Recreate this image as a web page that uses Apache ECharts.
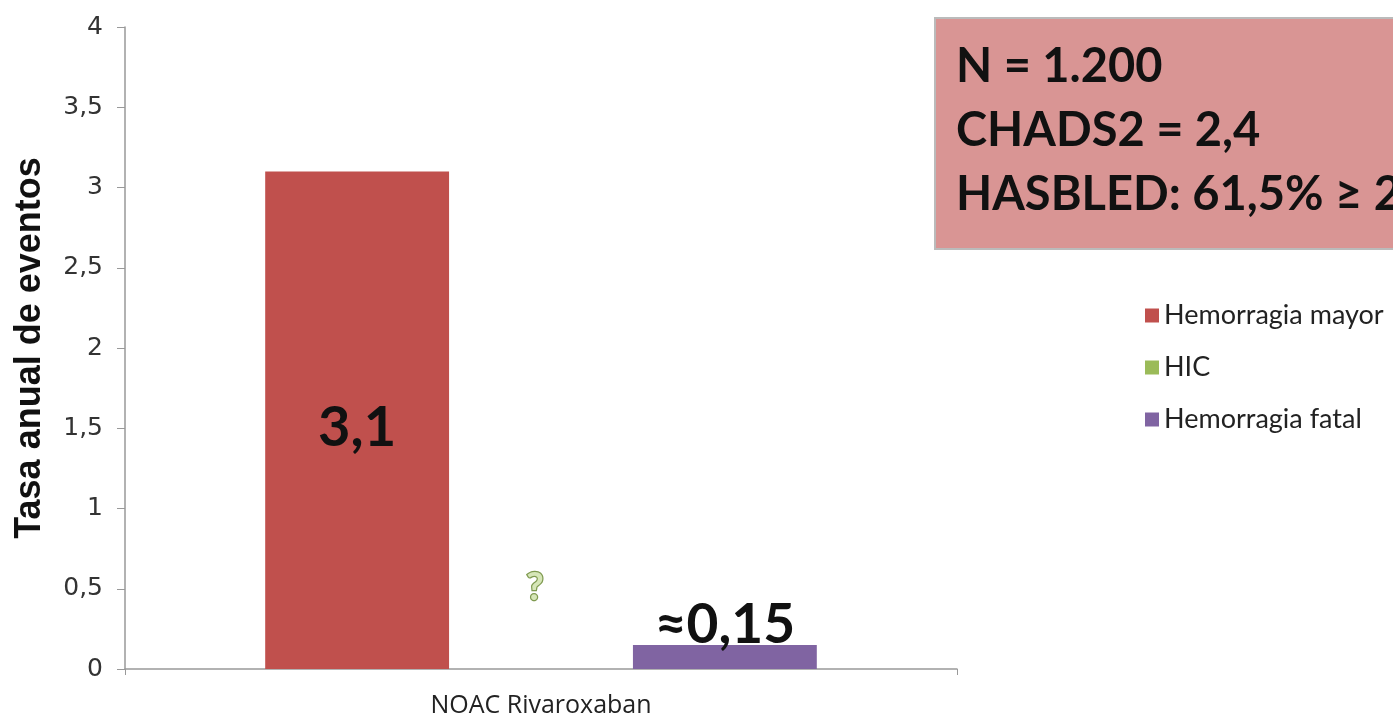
<!DOCTYPE html>
<html>
<head>
<meta charset="utf-8">
<script src="https://cdn.jsdelivr.net/npm/echarts@6/dist/echarts.min.js"></script>
<style>
  html, body { margin: 0; padding: 0; background: #fff; }
  #chart { width: 1393px; height: 719px; }
</style>
</head>
<body>
<div id="chart"></div>
<script>
// Annual event rates by bleeding type
const categories = ['NOAC Rivaroxaban'];
const seriesNames = ['Hemorragia mayor', 'HIC', 'Hemorragia fatal'];
const hemorragiaMayor = [3.1];
const hic = [0];          // not reported
const hemorragiaFatal = [0.15];
const valueLabels = ['3,1', '?', '≈0,15'];
const yTicks = [0, 0.5, 1, 1.5, 2, 2.5, 3, 3.5, 4];
const infoLines = ['N = 1.200', 'CHADS2 = 2,4', 'HASBLED: 61,5% ≥ 2'];

const colors = ['#c0504d', '#9bbb59', '#8064a2'];
const fmt = v => String(v).replace('.', ',');

const chart = echarts.init(document.getElementById('chart'));
chart.setOption({
  animation: false,
  grid: { left: 125, top: 27, right: 436, bottom: 50 },
  legend: {
    orient: 'vertical',
    left: 1140,
    top: 297,
    itemGap: 25,
    itemWidth: 14,
    itemHeight: 14,
    icon: 'rect',
    data: seriesNames,
    textStyle: { fontFamily: 'Lato, "Open Sans", sans-serif', fontSize: 27, color: '#222' }
  },
  xAxis: {
    type: 'category',
    data: categories,
    axisLine: { lineStyle: { color: '#999', width: 1.5 } },
    axisTick: { show: true, alignWithLabel: false, length: 6, lineStyle: { color: '#999' } },
    axisLabel: { fontFamily: '"Open Sans", sans-serif', fontSize: 25, color: '#222', margin: 24 }
  },
  yAxis: {
    type: 'value',
    min: yTicks[0],
    max: yTicks[yTicks.length - 1],
    interval: 0.5,
    name: 'Tasa anual de eventos',
    nameLocation: 'middle',
    nameGap: 77,
    nameRotate: 90,
    nameTextStyle: { fontFamily: '"Liberation Sans Narrow", "Liberation Sans", sans-serif', fontWeight: 'bold', fontSize: 36, color: '#111' },
    axisLine: { show: true, lineStyle: { color: '#999', width: 1.5 } },
    axisTick: { show: true, inside: false, length: 8, lineStyle: { color: '#999' } },
    splitLine: { show: false },
    axisLabel: { fontFamily: '"DejaVu Sans", sans-serif', fontSize: 25, color: '#333', margin: 22, formatter: fmt }
  },
  series: [
    {
      name: seriesNames[0], type: 'bar', data: hemorragiaMayor,
      barGap: '0%', barCategoryGap: '33.7%',
      itemStyle: { color: colors[0] },
      label: { show: true, position: 'inside', formatter: valueLabels[0], offset: [0, 8],
        fontFamily: 'Lato, sans-serif', fontWeight: 'bold', fontSize: 56, color: '#111' }
    },
    {
      name: seriesNames[1], type: 'bar', data: hic,
      itemStyle: { color: colors[1] },
      label: { show: true, position: 'top', formatter: valueLabels[1], offset: [-6, -57],
        fontFamily: 'Lato, sans-serif', fontWeight: 'bold', fontSize: 38, color: '#d6e6b8',
        textBorderColor: '#7f9a50', textBorderWidth: 2.5 }
    },
    {
      name: seriesNames[2], type: 'bar', data: hemorragiaFatal,
      itemStyle: { color: colors[2] },
      label: { show: true, position: 'top', formatter: valueLabels[2], distance: -8,
        fontFamily: 'Lato, sans-serif', fontWeight: 'bold', fontSize: 55, color: '#111' }
    }
  ],
  graphic: [
    {
      type: 'rect',
      shape: { x: 935, y: 18, width: 470, height: 231 },
      style: { fill: '#d99594', stroke: '#bbb', lineWidth: 2 }
    },
    {
      type: 'text',
      left: 956, top: 35,
      style: {
        text: infoLines.join('\n'),
        fontFamily: 'Lato, sans-serif', fontWeight: 'bold', fontSize: 47,
        lineHeight: 64, fill: '#111'
      }
    }
  ]
});
</script>
</body>
</html>
